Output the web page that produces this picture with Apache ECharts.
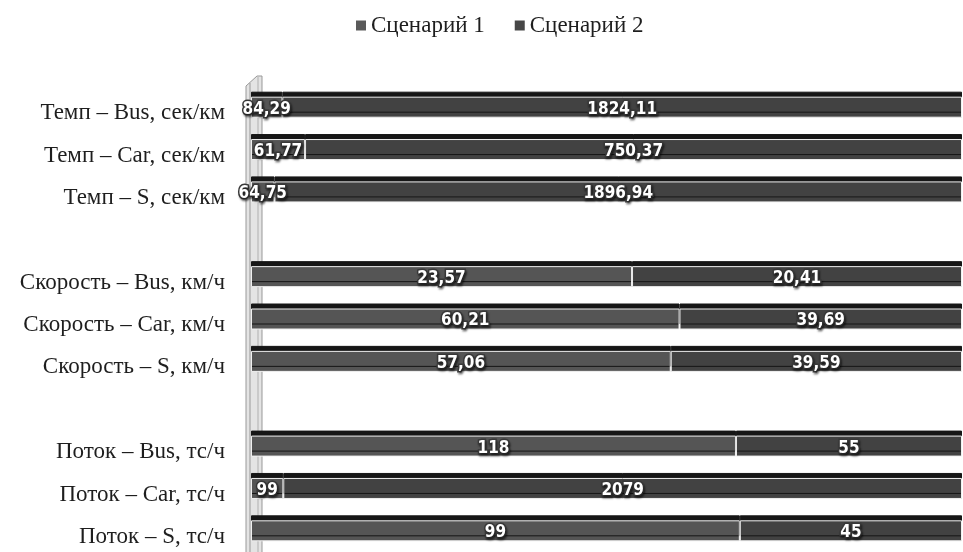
<!DOCTYPE html>
<html>
<head>
<meta charset="utf-8">
<script src="https://cdn.jsdelivr.net/npm/echarts@6/dist/echarts.min.js"></script>
<style>
  html, body { margin: 0; padding: 0; background: #ffffff; }
  #chart { width: 963px; height: 552px; }
</style>
</head>
<body>
<div id="chart"></div>
<script>
// Categories, top to bottom; empty names are spacer rows between groups
const categories = [
  'Темп – Bus, сек/км', 'Темп – Car, сек/км', 'Темп – S, сек/км', '',
  'Скорость – Bus, км/ч', 'Скорость – Car, км/ч', 'Скорость – S, км/ч', '',
  'Поток – Bus, тс/ч', 'Поток – Car, тс/ч', 'Поток – S, тс/ч'
];
const seriesNames = ['Сценарий 1', 'Сценарий 2'];
const scenario1 = [84.29, 61.77, 64.75, null, 23.57, 60.21, 57.06, null, 118, 99, 99];
const scenario2 = [1824.11, 750.37, 1896.94, null, 20.41, 39.69, 39.59, null, 55, 2079, 45];
const colors = ['#555555', '#424242'];
const legendColors = ['#5a5a5a', '#474747'];

// 100% stacking: each bar shows its share of the row total
function shares(own, other) {
  return own.map((v, i) => (v == null ? null : (v / (v + other[i])) * 100));
}
function fmt(v) {
  return String(v).replace('.', ',');
}

const raw = [scenario1, scenario2];
const pct = [shares(scenario1, scenario2), shares(scenario2, scenario1)];

const serif = '"Liberation Serif", "Times New Roman", serif';
const chart = echarts.init(document.getElementById('chart'));

const series = seriesNames.map((name, k) => ({
  name: name,
  type: 'bar',
  stack: 'total',
  barWidth: 21,
  data: pct[k],
  itemStyle: {
    color: colors[k],
    borderColor: '#f0f0f0',
    borderWidth: 1,
    shadowColor: '#161616',
    shadowOffsetY: -5,
    shadowOffsetX: 0,
    shadowBlur: 0
  },
  label: {
    show: true,
    position: 'inside',
    offset: [0, 2],
    formatter: p => fmt(raw[k][p.dataIndex]),
    color: '#ffffff',
    fontFamily: '"DejaVu Sans Condensed", "DejaVu Sans", sans-serif',
    fontWeight: 'bold',
    fontSize: 17,
    textBorderColor: '#383838',
    textBorderWidth: 3,
    textShadowColor: 'rgba(0,0,0,0.45)',
    textShadowOffsetX: 1,
    textShadowOffsetY: 2,
    textShadowBlur: 2
  },
  emphasis: { disabled: true }
}));

chart.setOption({
  animation: false,
  backgroundColor: '#ffffff',
  legend: {
    top: 9,
    left: 351,
    itemWidth: 10,
    itemHeight: 10,
    itemGap: 30,
    icon: 'rect',
    textStyle: {
      fontFamily: serif,
      fontSize: 23,
      color: '#1e1e1e'
    },
    data: seriesNames.map((n, k) => ({
      name: n,
      itemStyle: { color: legendColors[k], borderWidth: 0, shadowColor: 'transparent', shadowOffsetY: 0 }
    }))
  },
  grid: {
    left: 251,
    right: 1,
    top: 86,
    height: 467.5,
    containLabel: false
  },
  xAxis: {
    type: 'value',
    min: 0,
    max: 100,
    show: false
  },
  yAxis: {
    type: 'category',
    inverse: true,
    data: categories,
    axisLine: { show: false },
    axisTick: { show: false },
    axisLabel: {
      margin: 26,
      formatter: v => '{t|' + v + '}',
      rich: {
        t: {
          padding: [12, 0, 0, 0],
          fontFamily: serif,
          fontSize: 23,
          color: '#1e1e1e'
        }
      }
    }
  },
  series: series
});

// Side wall of the 3D plot area, anchored to the axis origin
const origin = chart.convertToPixel({ xAxisIndex: 0, yAxisIndex: 0 }, [0, 0]);
const x0 = Math.round(origin[0]) - 5;
const yTop = 78;
const yBot = 560;
chart.setOption({
  graphic: [
    {
      type: 'polygon',
      z: -1,
      shape: { points: [[x0, yTop + 8], [x0 + 11, yTop - 2], [x0 + 16, yTop - 2], [x0 + 16, yBot], [x0, yBot]] },
      style: { fill: '#e4e4e4', stroke: '#999999', lineWidth: 1 }
    },
    {
      type: 'line',
      z: -1,
      shape: { x1: x0 + 4, y1: yTop + 5, x2: x0 + 4, y2: yBot },
      style: { stroke: '#999999', lineWidth: 1 }
    },
    {
      type: 'line',
      z: -1,
      shape: { x1: x0 + 12, y1: yTop - 1, x2: x0 + 12, y2: yBot },
      style: { stroke: '#b0b0b0', lineWidth: 1 }
    }
  ]
});
</script>
</body>
</html>
